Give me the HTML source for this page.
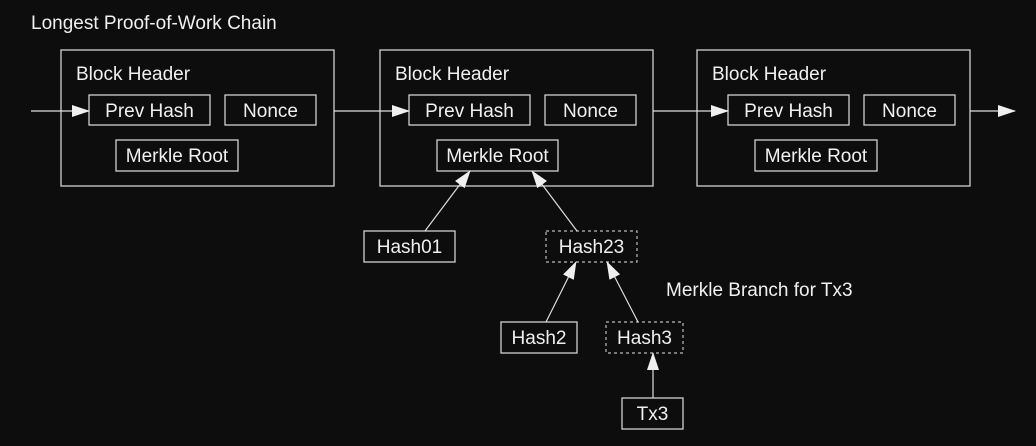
<!DOCTYPE html>
<html><head><style>
html,body{margin:0;padding:0;background:#0d0d0d;}
svg{display:block}
text{font-family:"Liberation Sans",sans-serif;fill:#f0f0f0;font-size:19px}
.b{fill:none;stroke:#d0d0d0;stroke-width:1.3}
.d{fill:none;stroke:#bbb;stroke-width:1.2;stroke-dasharray:3,3}
.l{stroke:#e0e0e0;stroke-width:1.2}
</style></head><body>
<svg width="1036" height="446" viewBox="0 0 1036 446">
<defs><marker id="a" markerWidth="18" markerHeight="12" refX="17" refY="6" orient="auto" markerUnits="userSpaceOnUse"><path d="M0,0 L18,6 L0,12 z" fill="#f0f0f0"/></marker></defs>
<text x="31" y="29">Longest Proof-of-Work Chain</text>
<g>
<rect class="b" x="61" y="50" width="273" height="136"/>
<text x="76" y="80">Block Header</text>
<rect class="b" x="89" y="95" width="121" height="30"/><text x="149.5" y="117" text-anchor="middle">Prev Hash</text>
<rect class="b" x="225" y="95" width="91" height="30"/><text x="270.5" y="117" text-anchor="middle">Nonce</text>
<rect class="b" x="116" y="140" width="122" height="31"/><text x="177" y="162" text-anchor="middle">Merkle Root</text>
</g>
<g>
<rect class="b" x="380" y="50" width="273" height="136"/>
<text x="395" y="80">Block Header</text>
<rect class="b" x="409" y="95" width="121" height="30"/><text x="469.5" y="117" text-anchor="middle">Prev Hash</text>
<rect class="b" x="545" y="95" width="91" height="30"/><text x="590.5" y="117" text-anchor="middle">Nonce</text>
<rect class="b" x="437" y="140" width="121" height="31"/><text x="497.5" y="162" text-anchor="middle">Merkle Root</text>
</g>
<g>
<rect class="b" x="697" y="50" width="273" height="136"/>
<text x="712" y="80">Block Header</text>
<rect class="b" x="728" y="95" width="121" height="30"/><text x="788.5" y="117" text-anchor="middle">Prev Hash</text>
<rect class="b" x="864" y="95" width="91" height="30"/><text x="909.5" y="117" text-anchor="middle">Nonce</text>
<rect class="b" x="755" y="140" width="122" height="31"/><text x="816" y="162" text-anchor="middle">Merkle Root</text>
</g>
<line class="l" x1="31" y1="111" x2="89" y2="111" marker-end="url(#a)"/>
<line class="l" x1="334" y1="111" x2="409" y2="111" marker-end="url(#a)"/>
<line class="l" x1="653" y1="111" x2="728" y2="111" marker-end="url(#a)"/>
<line class="l" x1="970" y1="111" x2="1015" y2="111" marker-end="url(#a)"/>
<rect class="b" x="364" y="231" width="91" height="31"/><text x="409.5" y="253" text-anchor="middle">Hash01</text>
<rect class="d" x="546" y="231" width="91" height="31"/><text x="591.5" y="253" text-anchor="middle">Hash23</text>
<rect class="b" x="501" y="322" width="76" height="31"/><text x="539" y="344" text-anchor="middle">Hash2</text>
<rect class="d" x="606" y="322" width="77" height="31"/><text x="644.5" y="344" text-anchor="middle">Hash3</text>
<rect class="b" x="622" y="398" width="61" height="31"/><text x="652.5" y="420" text-anchor="middle">Tx3</text>
<text x="666" y="296">Merkle Branch for Tx3</text>
<line class="l" x1="425" y1="231" x2="470" y2="171" marker-end="url(#a)"/>
<line class="l" x1="577" y1="231" x2="532" y2="171" marker-end="url(#a)"/>
<line class="l" x1="546" y1="322" x2="576" y2="262" marker-end="url(#a)"/>
<line class="l" x1="638" y1="322" x2="607" y2="262" marker-end="url(#a)"/>
<line class="l" x1="653" y1="398" x2="653" y2="353" marker-end="url(#a)"/>
</svg>
</body></html>
